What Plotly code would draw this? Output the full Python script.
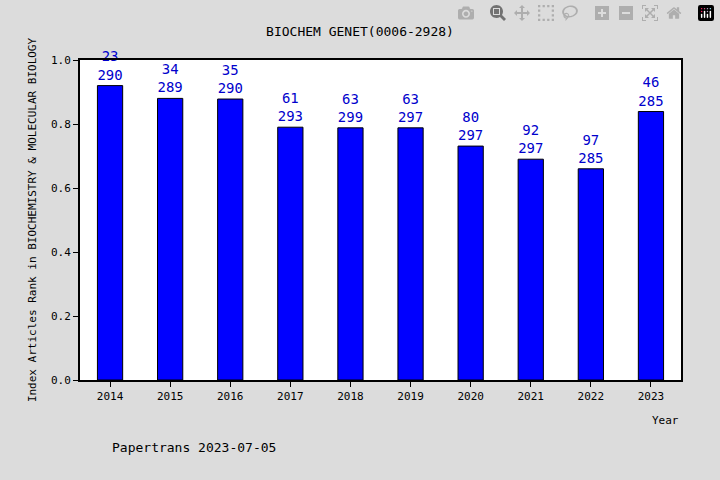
import plotly.graph_objects as go

years = ["2014", "2015", "2016", "2017", "2018", "2019", "2020", "2021", "2022", "2023"]
ranks = [23, 34, 35, 61, 63, 63, 80, 92, 97, 46]
totals = [290, 289, 290, 293, 299, 297, 297, 297, 285, 285]
heights = [0.92, 0.88, 0.878, 0.79, 0.788, 0.788, 0.731, 0.69, 0.66, 0.839]

labels = [f"{r}<br>{t}" for r, t in zip(ranks, totals)]
font = "DejaVu Sans Mono"

fig = go.Figure()
fig.add_trace(go.Bar(
    x=years, y=heights, width=0.42,
    marker=dict(color="#0000ff", line=dict(color="black", width=1)),
    text=labels, textposition="outside", cliponaxis=False,
    textfont=dict(color="#0000cc", size=14, family=font),
))
fig.update_layout(
    width=720, height=480,
    paper_bgcolor="#dcdcdc", plot_bgcolor="white",
    margin=dict(l=80, r=39, t=60, b=100),
    showlegend=False,
    font=dict(family=font, color="black", size=11),
    title=dict(text="BIOCHEM GENET(0006-2928)", x=0.5, y=0.945, font=dict(size=13)),
)
fig.update_xaxes(showline=True, linecolor="black", linewidth=2, mirror=True,
                 ticks="outside", ticklen=5, tickcolor="black")
fig.update_yaxes(range=[0, 1], dtick=0.2, tickformat=".1f", showgrid=False,
                 showline=True, linecolor="black", linewidth=2, mirror=True,
                 ticks="outside", ticklen=5, tickcolor="black", zeroline=False,
                 title=dict(text="Index Articles Rank in BIOCHEMISTRY & MOLECULAR BIOLOGY",
                            font=dict(size=11), standoff=12))
fig.add_annotation(text="Year", x=1.0, xref="paper", y=-0.1, yref="paper",
                   xanchor="right", yanchor="top", showarrow=False, font=dict(size=11))
fig.add_annotation(text="Papertrans 2023-07-05", x=(110 - 80) / 601, xref="paper",
                   y=-(447 - 380) / 320, yref="paper", xanchor="left", yanchor="middle",
                   showarrow=False, font=dict(size=13))
fig.write_html("out.html", post_script="document.body.style.margin='0';")
